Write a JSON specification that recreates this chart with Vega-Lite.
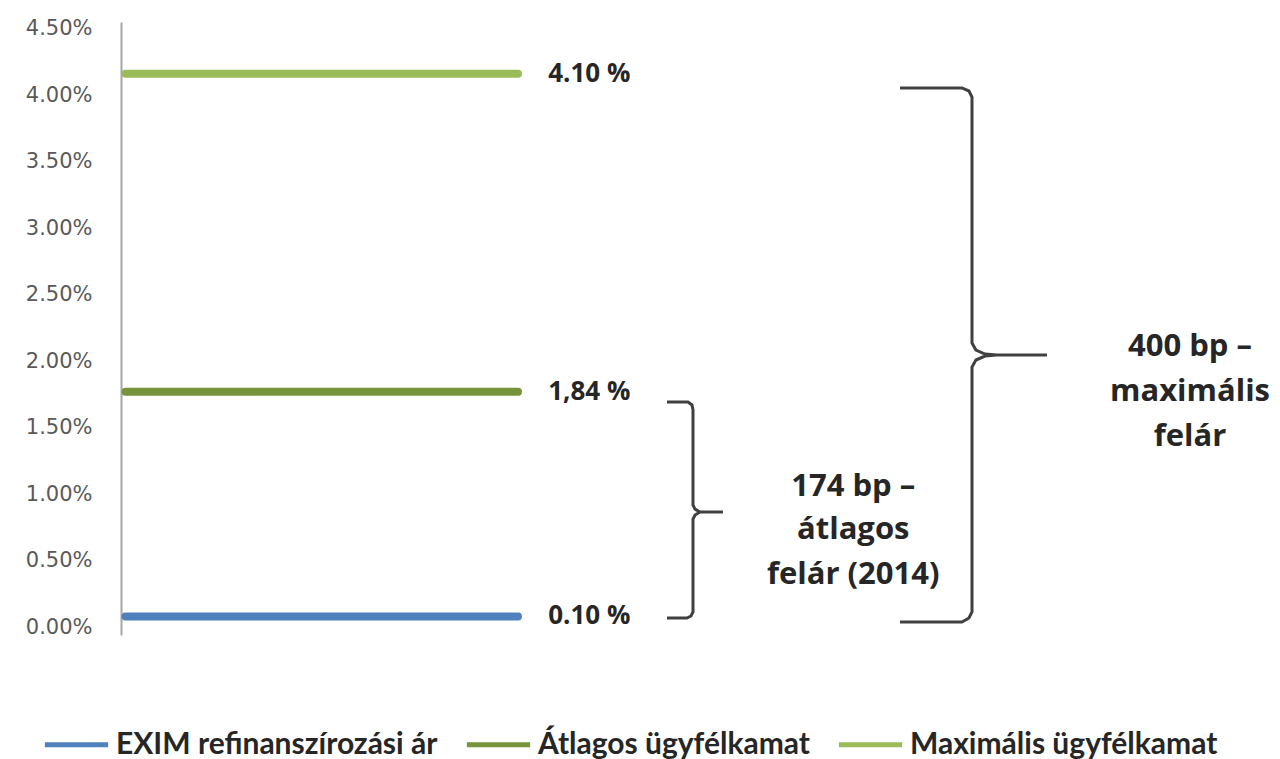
{
  "$schema": "https://vega.github.io/schema/vega-lite/v6.json",
  "width": 1130,
  "height": 613,
  "autosize": {"type": "none"},
  "padding": {"left": 121, "top": 22, "right": 29, "bottom": 124},
  "background": "white",
  "config": {"view": {"stroke": null}, "font": "Open Sans"},
  "datasets": {
    "series": [
      {"series": "EXIM refinanszírozási ár", "value": 0.08, "label": "0.10 %"},
      {"series": "Átlagos ügyfélkamat", "value": 1.77, "label": "1,84 %"},
      {"series": "Maximális ügyfélkamat", "value": 4.16, "label": "4.10 %"}
    ],
    "brackets": [
      {"b": "s", "i": 1, "x": 48.32, "y": 1.692},
      {"b": "s", "i": 2, "x": 50.18, "y": 1.692},
      {"b": "s", "i": 3, "x": 50.53, "y": 1.670},
      {"b": "s", "i": 4, "x": 50.62, "y": 1.632},
      {"b": "s", "i": 5, "x": 50.62, "y": 0.917},
      {"b": "s", "i": 6, "x": 50.80, "y": 0.887},
      {"b": "s", "i": 7, "x": 51.24, "y": 0.865},
      {"b": "s", "i": 8, "x": 53.27, "y": 0.865},
      {"b": "s", "i": 9, "x": 51.24, "y": 0.865},
      {"b": "s", "i": 10, "x": 50.80, "y": 0.842},
      {"b": "s", "i": 11, "x": 50.62, "y": 0.812},
      {"b": "s", "i": 12, "x": 50.62, "y": 0.113},
      {"b": "s", "i": 13, "x": 50.44, "y": 0.083},
      {"b": "s", "i": 14, "x": 50.09, "y": 0.068},
      {"b": "s", "i": 15, "x": 48.32, "y": 0.068},
      {"b": "b", "i": 1, "x": 68.94, "y": 4.054},
      {"b": "b", "i": 2, "x": 74.42, "y": 4.054},
      {"b": "b", "i": 3, "x": 75.04, "y": 4.031},
      {"b": "b", "i": 4, "x": 75.31, "y": 3.986},
      {"b": "b", "i": 5, "x": 75.31, "y": 2.136},
      {"b": "b", "i": 6, "x": 75.66, "y": 2.083},
      {"b": "b", "i": 7, "x": 76.46, "y": 2.053},
      {"b": "b", "i": 8, "x": 77.52, "y": 2.046},
      {"b": "b", "i": 9, "x": 81.95, "y": 2.046},
      {"b": "b", "i": 10, "x": 77.52, "y": 2.046},
      {"b": "b", "i": 11, "x": 76.46, "y": 2.038},
      {"b": "b", "i": 12, "x": 75.66, "y": 2.008},
      {"b": "b", "i": 13, "x": 75.31, "y": 1.955},
      {"b": "b", "i": 14, "x": 75.31, "y": 0.113},
      {"b": "b", "i": 15, "x": 75.04, "y": 0.068},
      {"b": "b", "i": 16, "x": 74.42, "y": 0.038},
      {"b": "b", "i": 17, "x": 68.94, "y": 0.038}
    ],
    "notes": [
      {"text": "174 bp –", "x": 64.8, "y": 1.053},
      {"text": "átlagos", "x": 64.8, "y": 0.729},
      {"text": "felár (2014)", "x": 64.8, "y": 0.391},
      {"text": "400 bp –", "x": 94.6, "y": 2.106},
      {"text": "maximális", "x": 94.6, "y": 1.767},
      {"text": "felár", "x": 94.6, "y": 1.429}
    ]
  },
  "layer": [
    {
      "data": {"name": "series"},
      "mark": {"type": "rule", "strokeWidth": 8, "strokeCap": "round"},
      "encoding": {
        "x": {"datum": 0.4, "type": "quantitative", "scale": {"domain": [0, 100], "nice": false, "zero": false}, "axis": null},
        "x2": {"datum": 35.13},
        "y": {
          "field": "value", "type": "quantitative",
          "scale": {"domain": [-0.06, 4.55], "nice": false, "zero": false},
          "axis": {
            "values": [0, 0.5, 1, 1.5, 2, 2.5, 3, 3.5, 4, 4.5],
            "labelExpr": "format(datum.value,'.2f')+'%'",
            "ticks": false, "grid": false, "title": null,
            "domainColor": "#a6a6a6", "domainWidth": 2,
            "labelFont": "DejaVu Sans", "labelFontSize": 21, "labelColor": "#595959",
            "labelPadding": 29
          }
        },
        "color": {
          "field": "series", "type": "nominal",
          "scale": {
            "domain": ["EXIM refinanszírozási ár", "Átlagos ügyfélkamat", "Maximális ügyfélkamat"],
            "range": ["#4f81bd", "#77933c", "#9bbb59"]
          },
          "legend": {
            "title": null, "orient": "none", "legendX": -79, "legendY": 688,
            "direction": "horizontal", "symbolType": "stroke", "symbolSize": 4000,
            "symbolStrokeWidth": 5, "labelFont": "Lato", "labelFontWeight": "bold",
            "labelFontSize": 30, "labelColor": "#262626", "labelOffset": 5,
            "columnPadding": 18, "labelLimit": 0
          }
        }
      }
    },
    {
      "data": {"name": "series"},
      "mark": {"type": "text", "align": "left", "baseline": "middle", "font": "Open Sans", "fontWeight": "bold", "fontSize": 26, "color": "#262626"},
      "encoding": {
        "x": {"datum": 37.8, "type": "quantitative"},
        "y": {"field": "value", "type": "quantitative"},
        "text": {"field": "label"}
      }
    },
    {
      "data": {"name": "brackets"},
      "mark": {"type": "line", "color": "#404040", "strokeWidth": 3},
      "encoding": {
        "x": {"field": "x", "type": "quantitative"},
        "y": {"field": "y", "type": "quantitative"},
        "detail": {"field": "b"},
        "order": {"field": "i", "type": "quantitative"}
      }
    },
    {
      "data": {"name": "notes"},
      "mark": {"type": "text", "align": "center", "baseline": "middle", "font": "Open Sans", "fontWeight": "bold", "fontSize": 31, "color": "#262626"},
      "encoding": {
        "x": {"field": "x", "type": "quantitative"},
        "y": {"field": "y", "type": "quantitative"},
        "text": {"field": "text"}
      }
    }
  ]
}
